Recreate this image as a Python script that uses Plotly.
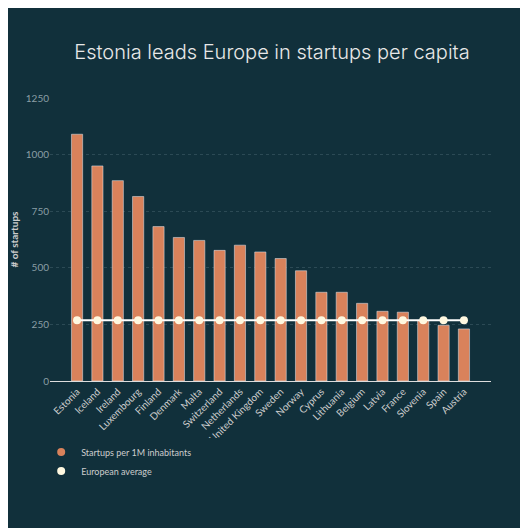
import plotly.graph_objects as go

countries = ["Estonia", "Iceland", "Ireland", "Luxembourg", "Finland", "Denmark", "Malta",
             "Switzerland", "Netherlands", "United Kingdom", "Sweden", "Norway", "Cyprus",
             "Lithuania", "Belgium", "Latvia", "France", "Slovenia", "Spain", "Austria"]
startups = [1090, 950, 885, 815, 682, 634, 621, 577, 600, 570, 541, 487, 392, 392, 343,
            308, 304, 268, 246, 230]
avg = [268] * len(countries)

fig = go.Figure()
fig.add_bar(x=countries, y=startups, name="Startups per 1M inhabitants",
            marker_color="#d9825b", width=0.55, showlegend=False)
fig.add_scatter(x=countries, y=avg, name="European average", mode="lines+markers",
                line=dict(color="white", width=2), marker=dict(color="#fff8e0", size=8),
                showlegend=False)
# legend entries with round symbols
fig.add_scatter(x=[None], y=[None], mode="markers", name="Startups per 1M inhabitants",
                marker=dict(color="#d9825b", size=8))
fig.add_scatter(x=[None], y=[None], mode="markers", name="European average",
                marker=dict(color="#fff8e0", size=8))

fig.update_layout(
    width=528, height=528,
    paper_bgcolor="#11303b", plot_bgcolor="#11303b",
    title=dict(text="Estonia leads Europe in startups per capita", x=0.5, xanchor="center", y=0.93,
               font=dict(family="Inter", size=20, color="#e8e8e8", weight=300)),
    font=dict(family="Lato", color="#cccccc", size=10),
    margin=dict(l=42, r=45, t=90, b=155),
    legend=dict(orientation="h", x=-0.02, y=-0.2, xanchor="left", yanchor="top",
                entrywidth=1, entrywidthmode="fraction",
                font=dict(size=9, color="#cccccc"), itemwidth=30, tracegroupgap=0),
    bargap=0.3,
)
fig.update_yaxes(range=[0, 1250], dtick=250, gridcolor="#2c4a55", griddash="dot",
                 zeroline=False, automargin=False,
                 title=dict(text="<b># of startups</b>", font=dict(size=10)),
                 tickfont=dict(color="#8a9ea5"))
fig.update_xaxes(tickangle=-45, showline=True, linecolor="#dddddd", automargin=False,
                 tickfont=dict(size=10, color="#cccccc"))

fig.write_html("out.html")
